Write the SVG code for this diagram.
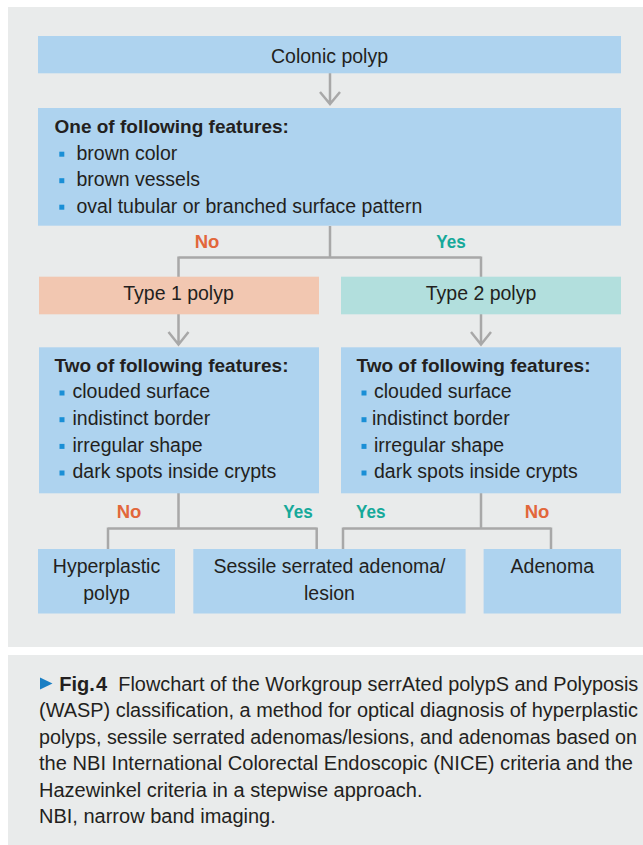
<svg xmlns="http://www.w3.org/2000/svg" width="643" height="845" viewBox="0 0 643 845">
<style>
.panel{fill:#e9ebeb}
.blue{fill:#aed3ef}
.peach{fill:#f2c7b1}
.teal{fill:#b2dfdd}
.t{font-family:"Liberation Sans",Arial,sans-serif;font-size:19.5px;fill:#231f20}
.c{text-anchor:middle}
.h{font-family:"Liberation Sans",Arial,sans-serif;font-size:19px;font-weight:bold;fill:#231f20}
.no{font-family:"Liberation Sans",Arial,sans-serif;font-size:18.5px;font-weight:bold;fill:#e2673b;text-anchor:middle}
.yes{font-family:"Liberation Sans",Arial,sans-serif;font-size:18.5px;font-weight:bold;fill:#16a99a;text-anchor:middle}
.cap{font-family:"Liberation Sans",Arial,sans-serif;font-size:20px;fill:#231f20}
.bul{fill:#1a8fd6}
.ln{fill:none;stroke:#a8a8a8;stroke-width:2.5}
</style>
<rect width="643" height="845" fill="#ffffff"/>
<rect class="panel" x="8" y="7" width="635" height="640"/>
<rect class="panel" x="8" y="655" width="635" height="190"/>

<g id="connectors">
  <path class="ln" d="M330 73 V104 M320 92 L330 104 L340 92"/>
  <path class="ln" d="M330 226 V257.5 M178.5 257.5 H481 M178.5 256.5 V277 M481 256.5 V277"/>
  <path class="ln" d="M178.5 314 V344.5 M168.5 332 L178.5 344.5 L188.5 332"/>
  <path class="ln" d="M481 314 V344.5 M471 332 L481 344.5 L491 332"/>
  <path class="ln" d="M178.5 493 V528.5 M108 528.5 H316.7 M108 527.5 V549 M316.7 527.5 V549"/>
  <path class="ln" d="M481 493 V528.5 M343 528.5 H551 M343 527.5 V549 M551 527.5 V549"/>
  <text class="no" x="207" y="248">No</text>
  <text class="yes" x="451" y="248" textLength="29.5" lengthAdjust="spacingAndGlyphs">Yes</text>
  <text class="no" x="129" y="517.5">No</text>
  <text class="yes" x="298" y="517.5" textLength="29.5" lengthAdjust="spacingAndGlyphs">Yes</text>
  <text class="yes" x="370.7" y="517.5" textLength="29.5" lengthAdjust="spacingAndGlyphs">Yes</text>
  <text class="no" x="537" y="517.5">No</text>
</g>

<g id="colonic-polyp">
  <rect class="blue" x="38" y="36" width="583" height="37.3"/>
  <text class="t c" x="329.5" y="63.3">Colonic polyp</text>
</g>

<g id="one-of-features">
  <rect class="blue" x="38" y="108" width="583" height="117.7"/>
  <text class="h" x="54.5" y="132.5">One of following features:</text>
  <rect class="bul" x="59.3" y="151.7" width="5" height="5"/>
  <text class="t" x="76.5" y="159.5">brown color</text>
  <rect class="bul" x="59.3" y="178.2" width="5" height="5"/>
  <text class="t" x="76.5" y="186">brown vessels</text>
  <rect class="bul" x="59.3" y="204.7" width="5" height="5"/>
  <text class="t" x="76.5" y="212.5">oval tubular or branched surface pattern</text>
</g>

<g id="type1">
  <rect class="peach" x="39" y="276.7" width="280" height="37.6"/>
  <text class="t c" x="178.5" y="300">Type 1 polyp</text>
</g>

<g id="type2">
  <rect class="teal" x="341" y="276.7" width="280" height="37.6"/>
  <text class="t c" x="481" y="300">Type 2 polyp</text>
</g>

<g id="two-features-left">
  <rect class="blue" x="39" y="347.3" width="280" height="146"/>
  <text class="h" x="54.5" y="371.7">Two of following features:</text>
  <rect class="bul" x="59.5" y="390.5" width="5" height="5"/>
  <text class="t" x="72.5" y="398.3">clouded surface</text>
  <rect class="bul" x="59.5" y="417.2" width="5" height="5"/>
  <text class="t" x="72.5" y="425">indistinct border</text>
  <rect class="bul" x="59.5" y="443.9" width="5" height="5"/>
  <text class="t" x="72.5" y="451.7">irregular shape</text>
  <rect class="bul" x="59.5" y="470.5" width="5" height="5"/>
  <text class="t" x="72.5" y="478.3">dark spots inside crypts</text>
</g>

<g id="two-features-right">
  <rect class="blue" x="341" y="347.3" width="280" height="146"/>
  <text class="h" x="356.5" y="371.7">Two of following features:</text>
  <rect class="bul" x="361.5" y="390.5" width="5" height="5"/>
  <text class="t" x="374" y="398.3">clouded surface</text>
  <rect class="bul" x="361.5" y="417.2" width="5" height="5"/>
  <text class="t" x="372" y="425">indistinct border</text>
  <rect class="bul" x="361.5" y="443.9" width="5" height="5"/>
  <text class="t" x="374" y="451.7">irregular shape</text>
  <rect class="bul" x="361.5" y="470.5" width="5" height="5"/>
  <text class="t" x="374" y="478.3">dark spots inside crypts</text>
</g>

<g id="hyperplastic">
  <rect class="blue" x="38" y="549" width="137" height="64.5"/>
  <text class="t c" x="106.5" y="573.3">Hyperplastic</text>
  <text class="t c" x="106.5" y="600">polyp</text>
</g>

<g id="sessile">
  <rect class="blue" x="193.3" y="549" width="272.3" height="64.5"/>
  <text class="t c" x="329.5" y="573.3">Sessile serrated adenoma/</text>
  <text class="t c" x="329.5" y="600">lesion</text>
</g>

<g id="adenoma">
  <rect class="blue" x="483.6" y="549" width="137.4" height="64.5"/>
  <text class="t c" x="552.3" y="573.3">Adenoma</text>
</g>

<g id="caption">
  <path d="M40 677.5 L52.5 683.5 L40 689.5 Z" fill="#1a7fc4"/>
  <text class="cap" x="59.3" y="690.7" font-weight="bold">Fig.</text>
  <text class="cap" x="96" y="690.7" font-weight="bold">4</text>
  <text class="cap" x="118.3" y="690.7" font-size="19.6" textLength="520" lengthAdjust="spacingAndGlyphs">Flowchart of the Workgroup serrAted polypS and Polyposis</text>
  <text class="cap" x="39" y="717.2" font-size="19.6" textLength="599" lengthAdjust="spacingAndGlyphs">(WASP) classification, a method for optical diagnosis of hyperplastic</text>
  <text class="cap" x="39" y="743.7" font-size="18.8" textLength="598" lengthAdjust="spacingAndGlyphs">polyps, sessile serrated adenomas/lesions, and adenomas based on</text>
  <text class="cap" x="39" y="770.2" textLength="594" lengthAdjust="spacingAndGlyphs">the NBI International Colorectal Endoscopic (NICE) criteria and the</text>
  <text class="cap" x="39" y="796.7">Hazewinkel criteria in a stepwise approach.</text>
  <text class="cap" x="39" y="823.2">NBI, narrow band imaging.</text>
</g>
</svg>
